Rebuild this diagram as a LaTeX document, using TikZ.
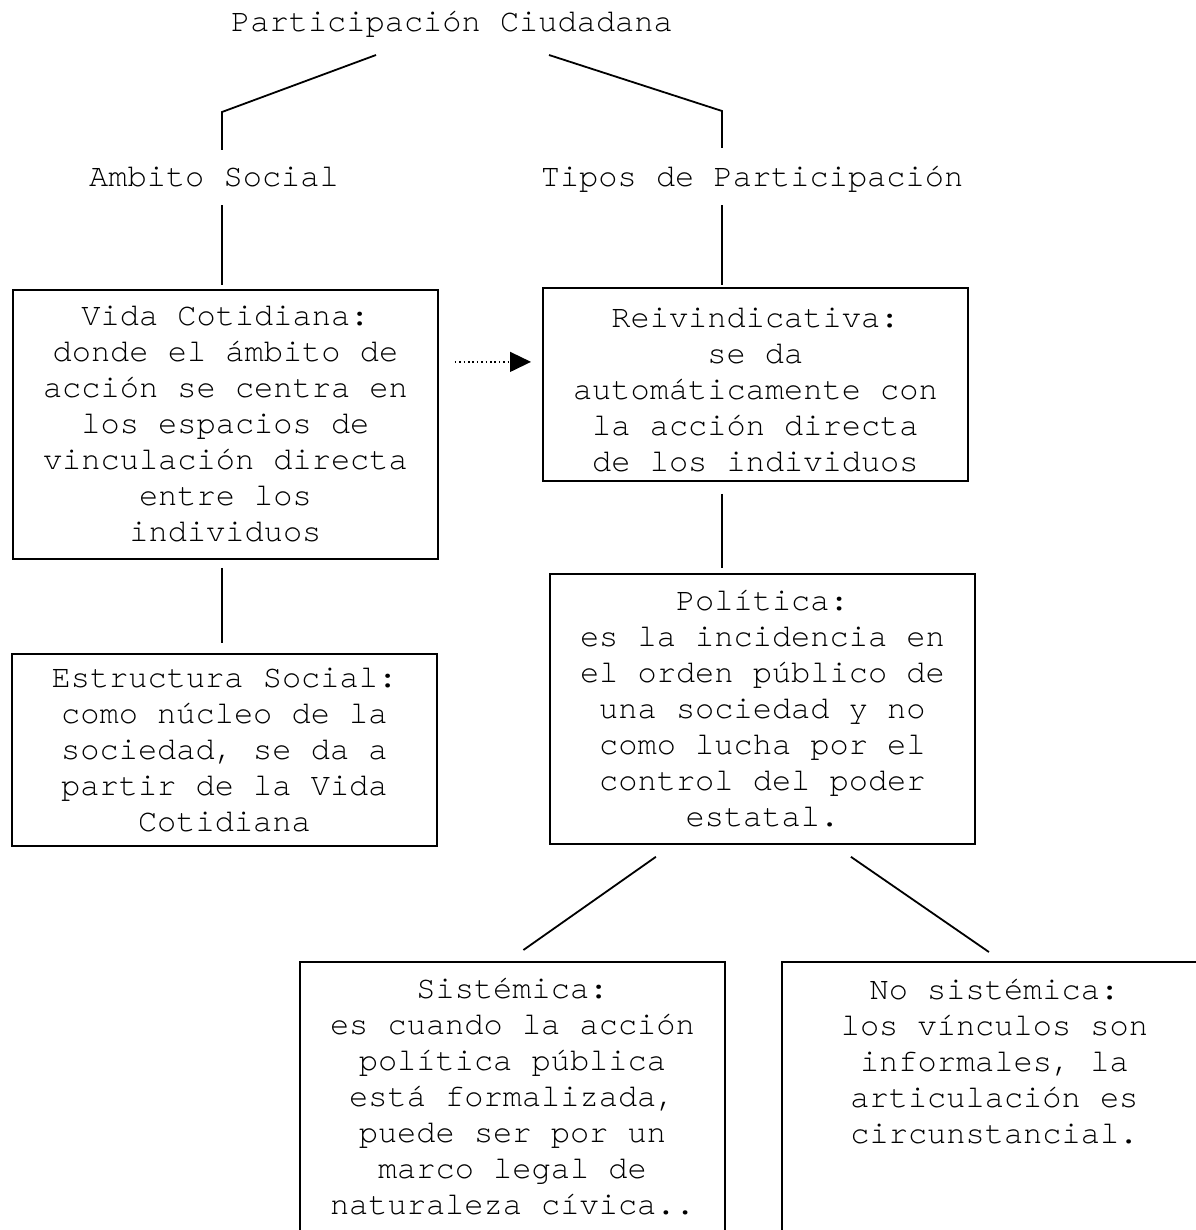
\documentclass[tikz,border=0pt]{standalone}
\usepackage{fontspec}
\setmainfont{TeX Gyre Cursor}
\usetikzlibrary{arrows.meta}

\begin{document}
\begin{tikzpicture}[x=0.5pt,y=-0.5pt]
        \tikzstyle{every node}=[font=\fontsize{16}{18}\selectfont]
        \tikzstyle{titulo}=[inner sep=0pt, anchor=base, text height=11pt, text depth=3.5pt]
        \tikzstyle{caja}=[draw, line width=0.9pt, align=center, minimum width=212.5pt, inner sep=0pt, anchor=north west]
        \tikzstyle{enlace}=[line width=0.9pt]
        \tikzstyle{flecha}=[line width=0.7pt, dash pattern=on 0.8pt off 1.4pt, -{Triangle[length=10.5pt,width=10pt]}]
        \useasboundingbox (0,0) rectangle (1195,1230);
        \node[titulo] (pc) at (452,32) {Participación Ciudadana};
        \node[titulo] (ambito) at (214,187) {Ambito Social};
        \node[titulo] (tipos) at (752,187) {Tipos de Participación};
        \node[caja, minimum height=134.5pt] (vida) at (12,289) {Vida Cotidiana:\\ donde el ámbito de\\ acción se centra en\\ los espacios de\\ vinculación directa\\ entre los\\ individuos};
        \node[caja, minimum height=96.5pt] (reiv) at (542,287) {\rule{0pt}{15pt}Reivindicativa:\\ se da\\ automáticamente con\\ la acción directa\\ de los individuos};
        \node[caja, minimum height=96pt] (estr) at (11,653) {Estructura Social:\\ como núcleo de la\\ sociedad, se da a\\ partir de la Vida\\ Cotidiana};
        \node[caja, minimum height=135pt] (pol) at (549,573) {Política:\\ es la incidencia en\\ el orden público de\\ una sociedad y no\\ como lucha por el\\ control del poder\\ estatal.};
        \node[caja, minimum height=135pt] (sist) at (299,961) {Sistémica:\\ es cuando la acción\\ política pública\\ está formalizada,\\ puede ser por un\\ marco legal de\\ naturaleza cívica..};
        \node[caja, minimum height=135pt] (nosis) at (781,961) {No sistémica:\\ los vínculos son\\ informales, la\\ articulación es\\ circunstancial.\\ ~\\ ~};
        % ramas superiores
        \coordinate (li) at (376,55);
        \coordinate (lk) at (222,112);
        \coordinate (lf) at (222,150);
        \coordinate (ri) at (549,55);
        \coordinate (rk) at (722,111);
        \coordinate (rf) at (722,148);
        \draw[enlace] (li) -- (lk) -- (lf);
        \draw[enlace] (ri) -- (rk) -- (rf);
        \draw[enlace, shorten <=5.5pt, shorten >=2pt] (ambito.south -| lk) -- (vida.north -| lk);
        \draw[enlace, shorten <=5.5pt, shorten >=1pt] (tipos.south -| rk) -- (reiv.north -| rk);
        \draw[enlace, shorten <=4pt, shorten >=5pt] (vida.south -| lk) -- (estr.north -| lk);
        \draw[enlace, shorten <=6pt, shorten >=2.5pt] (reiv.south -| rk) -- (pol.north -| rk);
        \draw[enlace] ([xshift=-53.25pt,yshift=-6pt]pol.south) -- ([xshift=5.5pt,yshift=5.5pt]sist.north);
        \draw[enlace] ([xshift=44.25pt,yshift=-6pt]pol.south) -- ([xshift=-2.75pt,yshift=4.5pt]nosis.north);
        \draw[flecha] ([xshift=8pt,yshift=31.25pt]vida.east) -- ([xshift=-5.5pt,yshift=11.25pt]reiv.west);
\end{tikzpicture}
\end{document}
